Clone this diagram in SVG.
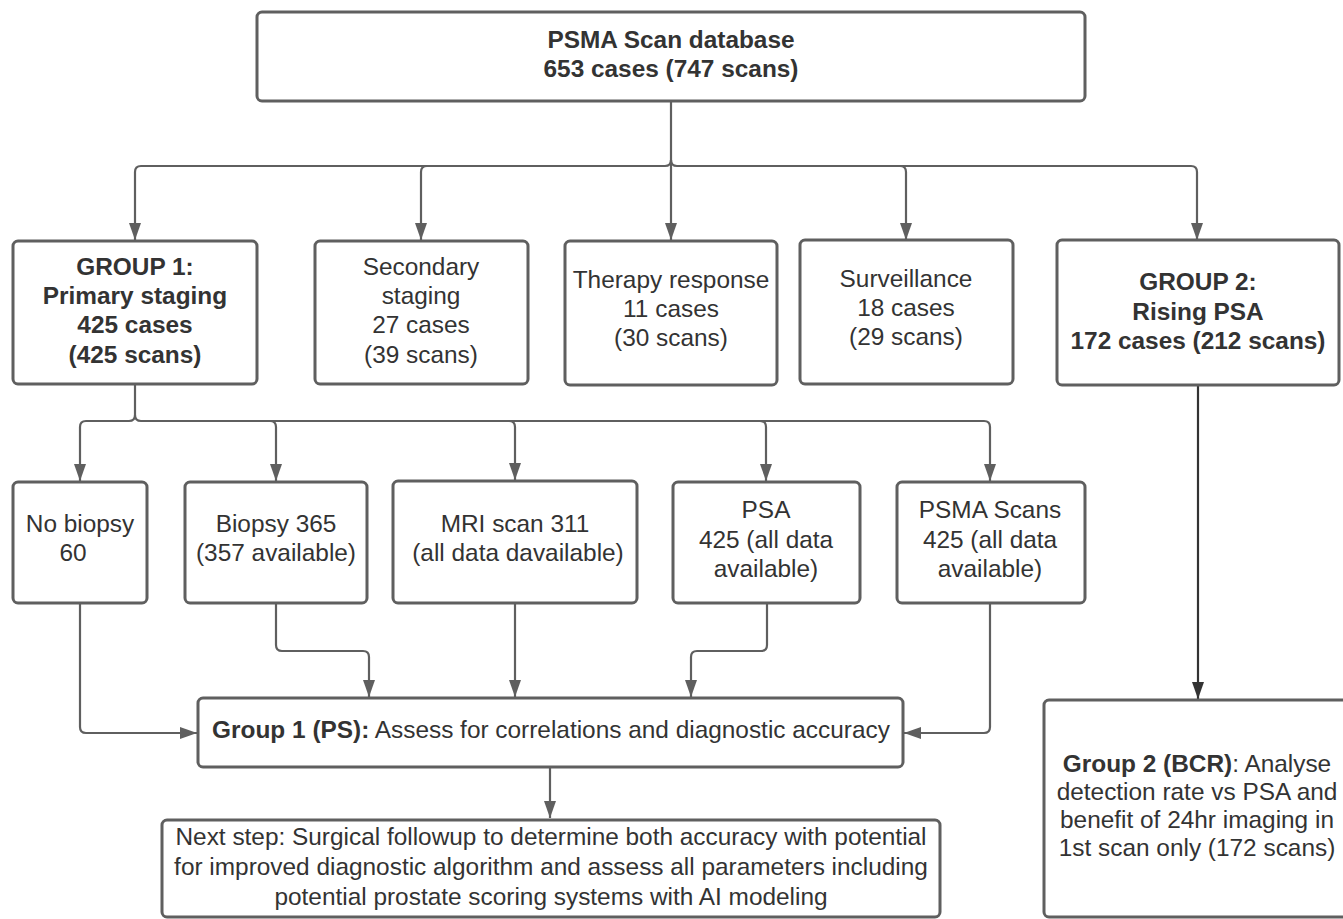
<svg xmlns="http://www.w3.org/2000/svg" width="1343" height="919" viewBox="0 0 1343 919">
<style>
.box{fill:#fff;stroke:#5f5f5f;stroke-width:3}
.c{fill:none;stroke:#5f5f5f;stroke-width:2.2}
.cd{fill:none;stroke:#333;stroke-width:2.2}
text{font-family:"Liberation Sans",Arial,sans-serif;font-size:24.4px;fill:#333;text-anchor:middle}
.b{font-weight:bold}
</style>
<defs>
<marker id="ah" markerWidth="17" markerHeight="12" refX="17" refY="6" viewBox="0 0 17 12" markerUnits="userSpaceOnUse" orient="auto">
<path d="M0,0 L17,6 L0,12 Z" fill="#5f5f5f"/>
</marker>
<marker id="ahd" markerWidth="17" markerHeight="12" refX="17" refY="6" viewBox="0 0 17 12" markerUnits="userSpaceOnUse" orient="auto">
<path d="M0,0 L17,6 L0,12 Z" fill="#333"/>
</marker>
</defs>
<g id="connectors">
<path class="c" d="M671,101 V240" marker-end="url(#ah)"/>
<path class="c" d="M671,160 Q671,166 665,166 H141 Q135,166 135,172 V240" marker-end="url(#ah)"/>
<path class="c" d="M427,166 Q421,166 421,172 V240" marker-end="url(#ah)"/>
<path class="c" d="M671,160 Q671,166 677,166 H1191 Q1197,166 1197,172 V240" marker-end="url(#ah)"/>
<path class="c" d="M900,166 Q906,166 906,172 V240" marker-end="url(#ah)"/>
<path class="c" d="M135,384 V415 Q135,421 129,421 H86 Q80,421 80,427 V481" marker-end="url(#ah)"/>
<path class="c" d="M135,415 Q135,421 141,421 H984 Q990,421 990,427 V481" marker-end="url(#ah)"/>
<path class="c" d="M270,421 Q276,421 276,427 V481" marker-end="url(#ah)"/>
<path class="c" d="M509,421 Q515,421 515,427 V480" marker-end="url(#ah)"/>
<path class="c" d="M760,421 Q766,421 766,427 V481" marker-end="url(#ah)"/>
<path class="c" d="M80,603 V727 Q80,733 86,733 H197" marker-end="url(#ah)"/>
<path class="c" d="M276,603 V645 Q276,651 282,651 H363 Q369,651 369,657 V697" marker-end="url(#ah)"/>
<path class="c" d="M515,603 V697" marker-end="url(#ah)"/>
<path class="c" d="M767,603 V645 Q767,651 761,651 H697 Q691,651 691,657 V697" marker-end="url(#ah)"/>
<path class="c" d="M990,603 V727 Q990,733 984,733 H904" marker-end="url(#ah)"/>
<path class="c" d="M550,767 V818" marker-end="url(#ah)"/>
<path class="cd" d="M1198,385 V699" marker-end="url(#ahd)"/>
</g>
<g id="top">
<rect class="box" x="257" y="12" width="828" height="89" rx="5"/>
<text class="b" x="671" y="48">PSMA Scan database</text>
<text class="b" x="671" y="77">653 cases (747 scans)</text>
</g>
<g id="group1">
<rect class="box" x="13" y="241" width="244" height="143" rx="5"/>
<text class="b" x="135" y="275">GROUP 1:</text>
<text class="b" x="135" y="304">Primary staging</text>
<text class="b" x="135" y="333">425 cases</text>
<text class="b" x="135" y="363">(425 scans)</text>
</g>
<g id="secondary">
<rect class="box" x="315" y="241" width="213" height="143" rx="5"/>
<text x="421" y="275">Secondary</text>
<text x="421" y="304">staging</text>
<text x="421" y="333">27 cases</text>
<text x="421" y="363">(39 scans)</text>
</g>
<g id="therapy">
<rect class="box" x="565" y="241" width="212" height="144" rx="5"/>
<text x="671" y="288">Therapy response</text>
<text x="671" y="317">11 cases</text>
<text x="671" y="346">(30 scans)</text>
</g>
<g id="surveillance">
<rect class="box" x="800" y="240" width="213" height="144" rx="5"/>
<text x="906" y="287">Surveillance</text>
<text x="906" y="316">18 cases</text>
<text x="906" y="345">(29 scans)</text>
</g>
<g id="group2">
<rect class="box" x="1057" y="240" width="282" height="145" rx="5"/>
<text class="b" x="1198" y="290">GROUP 2:</text>
<text class="b" x="1198" y="320">Rising PSA</text>
<text class="b" x="1198" y="349">172 cases (212 scans)</text>
</g>
<g id="nobiopsy">
<rect class="box" x="13" y="482" width="134" height="121" rx="5"/>
<text x="80" y="532">No biopsy</text>
<text x="73" y="561">60</text>
</g>
<g id="biopsy">
<rect class="box" x="185" y="482" width="182" height="121" rx="5"/>
<text x="276" y="532">Biopsy 365</text>
<text x="276" y="561">(357 available)</text>
</g>
<g id="mri">
<rect class="box" x="393" y="481" width="244" height="122" rx="5"/>
<text x="515" y="532">MRI scan 311</text>
<text x="518" y="561">(all data davailable)</text>
</g>
<g id="psa">
<rect class="box" x="673" y="482" width="187" height="121" rx="5"/>
<text x="766" y="518">PSA</text>
<text x="766" y="548">425 (all data</text>
<text x="766" y="577">available)</text>
</g>
<g id="psmascans">
<rect class="box" x="897" y="482" width="188" height="121" rx="5"/>
<text x="990" y="518">PSMA Scans</text>
<text x="990" y="548">425 (all data</text>
<text x="990" y="577">available)</text>
</g>
<g id="group1ps">
<rect class="box" x="198" y="698" width="705" height="69" rx="5"/>
<text x="551" y="738"><tspan class="b">Group 1 (PS):</tspan> Assess for correlations and diagnostic accuracy</text>
</g>
<g id="nextstep">
<rect class="box" x="162" y="820" width="778" height="97" rx="5"/>
<text x="551" y="845">Next step: Surgical followup to determine both accuracy with potential</text>
<text x="551" y="875">for improved diagnostic algorithm and assess all parameters including</text>
<text x="551" y="905">potential prostate scoring systems with AI modeling</text>
</g>
<g id="bcr">
<rect class="box" x="1044" y="700" width="310" height="217" rx="5"/>
<text x="1197" y="772"><tspan class="b">Group 2 (BCR)</tspan>: Analyse</text>
<text x="1197" y="800">detection rate vs PSA and</text>
<text x="1197" y="828">benefit of 24hr imaging in</text>
<text x="1197" y="856">1st scan only (172 scans)</text>
</g>
</svg>
